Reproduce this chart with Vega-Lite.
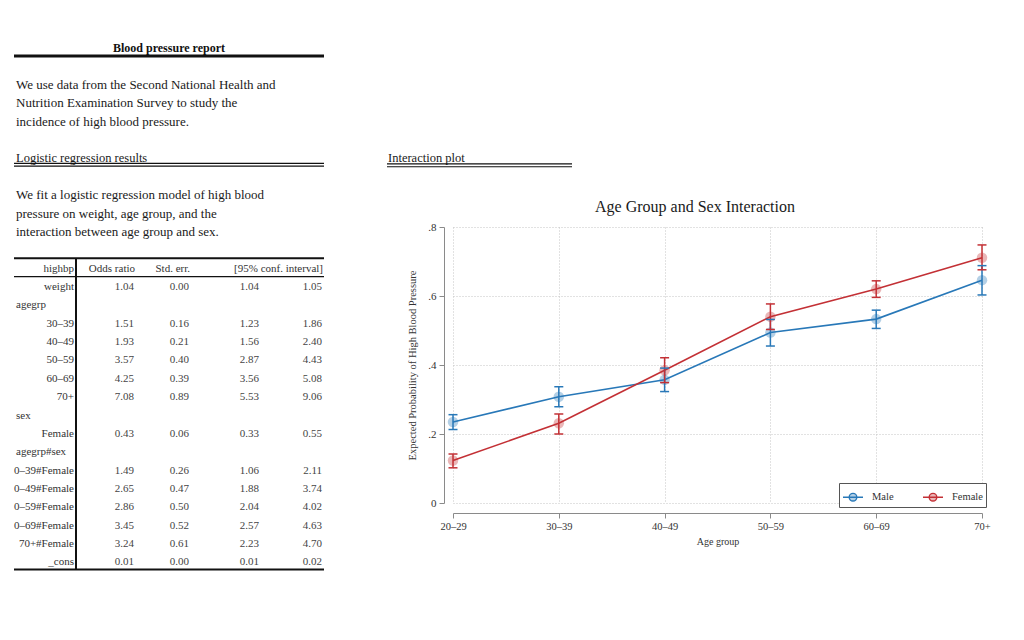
{
  "$schema": "https://vega.github.io/schema/vega-lite/v6.json",
  "width": 529,
  "height": 276,
  "autosize": {"type": "none"},
  "padding": {"left": 453, "top": 227, "right": 42, "bottom": 137},
  "background": "white",
  "config": {"view": {"stroke": null}, "font": "Liberation Serif"},
  "datasets": {
    "probs": [
      {"age": "20–29", "sex": "Male", "p": 0.235, "lo": 0.213, "hi": 0.256},
      {"age": "30–39", "sex": "Male", "p": 0.308, "lo": 0.279, "hi": 0.337},
      {"age": "40–49", "sex": "Male", "p": 0.357, "lo": 0.323, "hi": 0.391},
      {"age": "50–59", "sex": "Male", "p": 0.494, "lo": 0.455, "hi": 0.532},
      {"age": "60–69", "sex": "Male", "p": 0.533, "lo": 0.506, "hi": 0.559},
      {"age": "70+", "sex": "Male", "p": 0.646, "lo": 0.603, "hi": 0.688},
      {"age": "20–29", "sex": "Female", "p": 0.123, "lo": 0.102, "hi": 0.142},
      {"age": "30–39", "sex": "Female", "p": 0.231, "lo": 0.2, "hi": 0.258},
      {"age": "40–49", "sex": "Female", "p": 0.385, "lo": 0.349, "hi": 0.421},
      {"age": "50–59", "sex": "Female", "p": 0.54, "lo": 0.503, "hi": 0.577},
      {"age": "60–69", "sex": "Female", "p": 0.62, "lo": 0.596, "hi": 0.644},
      {"age": "70+", "sex": "Female", "p": 0.711, "lo": 0.676, "hi": 0.748}
    ],
    "table": [
      {"row": 12, "label": "highbp", "kind": "head"},
      {"row": 13, "label": "weight", "kind": "var", "or": 1.04, "se": 0.0, "lo": 1.04, "hi": 1.05},
      {"row": 14, "label": "agegrp", "kind": "group"},
      {"row": 15, "label": "30–39", "kind": "var", "or": 1.51, "se": 0.16, "lo": 1.23, "hi": 1.86},
      {"row": 16, "label": "40–49", "kind": "var", "or": 1.93, "se": 0.21, "lo": 1.56, "hi": 2.4},
      {"row": 17, "label": "50–59", "kind": "var", "or": 3.57, "se": 0.4, "lo": 2.87, "hi": 4.43},
      {"row": 18, "label": "60–69", "kind": "var", "or": 4.25, "se": 0.39, "lo": 3.56, "hi": 5.08},
      {"row": 19, "label": "70+", "kind": "var", "or": 7.08, "se": 0.89, "lo": 5.53, "hi": 9.06},
      {"row": 20, "label": "sex", "kind": "group"},
      {"row": 21, "label": "Female", "kind": "var", "or": 0.43, "se": 0.06, "lo": 0.33, "hi": 0.55},
      {"row": 22, "label": "agegrp#sex", "kind": "group"},
      {"row": 23, "label": "0–39#Female", "kind": "var", "or": 1.49, "se": 0.26, "lo": 1.06, "hi": 2.11},
      {"row": 24, "label": "0–49#Female", "kind": "var", "or": 2.65, "se": 0.47, "lo": 1.88, "hi": 3.74},
      {"row": 25, "label": "0–59#Female", "kind": "var", "or": 2.86, "se": 0.5, "lo": 2.04, "hi": 4.02},
      {"row": 26, "label": "0–69#Female", "kind": "var", "or": 3.45, "se": 0.52, "lo": 2.57, "hi": 4.63},
      {"row": 27, "label": "70+#Female", "kind": "var", "or": 3.24, "se": 0.61, "lo": 2.23, "hi": 4.7},
      {"row": 28, "label": "_cons", "kind": "var", "or": 0.01, "se": 0.0, "lo": 0.01, "hi": 0.02}
    ],
    "thead": [
      {"c": 2, "t": "Odds ratio"},
      {"c": 4, "t": "Std. err."},
      {"c": 6, "t": "[95% conf. interval]"}
    ],
    "one": [{}]
  },
  "resolve": {"scale": {"x": "independent", "y": "independent"}},
  "layer": [
    {
      "data": {"name": "probs"},
      "encoding": {
        "x": {
          "field": "age", "type": "nominal",
          "scale": {"type": "point", "padding": 0, "domain": ["20–29", "30–39", "40–49", "50–59", "60–69", "70+"]},
          "axis": {
            "title": "Age group", "labelAngle": 0, "offset": 10, "tickSize": 5, "labelPadding": 3,
            "labelFontSize": 10.5, "labelColor": "#333", "titleFontSize": 10, "titleFontWeight": "normal",
            "titleColor": "#333", "titlePadding": 5, "domainColor": "#8a8a8a", "tickColor": "#8a8a8a",
            "grid": true, "gridDash": [1, 2], "gridColor": "#c4c4c4"
          }
        },
        "color": {
          "field": "sex", "type": "nominal",
          "scale": {"domain": ["Male", "Female"], "range": ["#2878b8", "#c33035"]},
          "legend": {
            "title": null, "orient": "bottom-right", "direction": "horizontal", "offset": -4,
            "strokeColor": "#555", "fillColor": "white", "padding": 3,
            "symbolType": "M-1,0L1,0M-0.38,0A0.38,0.38,0,1,0,0.38,0A0.38,0.38,0,1,0,-0.38,0",
            "symbolSize": 400, "symbolStrokeWidth": 1.4, "symbolOpacity": 1,
            "labelFontSize": 10.5, "labelFont": "Liberation Serif", "labelColor": "#333",
            "labelOffset": 8, "columnPadding": 26,
            "encode": {"symbols": {"update": {
              "fill": {"scale": "color", "field": "value"},
              "fillOpacity": {"value": 0.35},
              "stroke": {"scale": "color", "field": "value"},
              "strokeOpacity": {"value": 1}
            }}}
          }
        }
      },
      "layer": [
        {
          "mark": {"type": "point", "filled": true, "opacity": 0.35, "size": 110},
          "encoding": {
            "y": {
              "field": "p", "type": "quantitative",
              "scale": {"domain": [0, 0.8], "nice": false, "zero": false},
              "axis": {
                "title": "Expected Probability of High Blood Pressure",
                "values": [0, 0.2, 0.4, 0.6, 0.8],
                "labelExpr": "datum.value == 0 ? '0' : replace(format(datum.value, '.1f'), '0.', '.')",
                "offset": 9, "tickSize": 5, "labelPadding": 3, "titlePadding": 10,
                "labelFontSize": 11, "labelColor": "#333", "titleFontSize": 10.5,
                "titleFontWeight": "normal", "titleColor": "#333",
                "domainColor": "#8a8a8a", "tickColor": "#8a8a8a",
                "grid": true, "gridDash": [1, 2], "gridColor": "#c4c4c4"
              }
            }
          }
        },
        {
          "mark": {"type": "line", "strokeWidth": 1.6},
          "encoding": {"y": {"field": "p", "type": "quantitative", "scale": {"domain": [0, 0.8], "nice": false, "zero": false}}}
        },
        {
          "mark": {"type": "rule", "strokeWidth": 1.5},
          "encoding": {
            "y": {"field": "lo", "type": "quantitative", "scale": {"domain": [0, 0.8], "nice": false, "zero": false}},
            "y2": {"field": "hi"}
          }
        },
        {
          "mark": {"type": "tick", "size": 9, "thickness": 1.5, "opacity": 1},
          "encoding": {"y": {"field": "lo", "type": "quantitative", "scale": {"domain": [0, 0.8], "nice": false, "zero": false}}}
        },
        {
          "mark": {"type": "tick", "size": 9, "thickness": 1.5, "opacity": 1},
          "encoding": {"y": {"field": "hi", "type": "quantitative", "scale": {"domain": [0, 0.8], "nice": false, "zero": false}}}
        }
      ]
    },
    {
      "layer": [
        {
          "data": {"values": [{"t": "Blood pressure report"}]},
          "mark": {"type": "text", "align": "center", "baseline": "middle", "fontSize": 12, "fontWeight": "bold", "color": "#111"},
          "encoding": {
            "x": {"datum": 3, "type": "quantitative", "scale": {"domain": [0,1,2,3,4,5,6,7,8,9,10], "range": [-439,-377,-319,-284,-264,-194,-131,-129,-66,119,242], "nice": false, "zero": false}, "axis": null},
            "y": {"datum": 0, "type": "quantitative", "scale": {"domain": [0, 28], "range": [-178.7, 335.4], "nice": false, "zero": false}, "axis": null},
            "text": {"field": "t"}
          }
        },
        {
          "data": {"name": "one"},
          "mark": {"type": "rule", "strokeWidth": 3, "color": "#111"},
          "encoding": {
            "x": {"datum": 0, "type": "quantitative", "scale": {"domain": [0,1,2,3,4,5,6,7,8,9,10], "range": [-439,-377,-319,-284,-264,-194,-131,-129,-66,119,242], "nice": false, "zero": false}, "axis": null},
            "x2": {"datum": 7},
            "y": {"datum": 0.42, "type": "quantitative", "scale": {"domain": [0, 28], "range": [-178.7, 335.4], "nice": false, "zero": false}, "axis": null}
          }
        },
        {
          "data": {"values": [{"t": ["We use data from the Second National Health and", "Nutrition Examination Survey to study the", "incidence of high blood pressure."]}]},
          "mark": {"type": "text", "align": "left", "baseline": "middle", "fontSize": 13, "lineHeight": 18.36, "dx": 2, "color": "#1a1a1a"},
          "encoding": {
            "x": {"datum": 0, "type": "quantitative", "scale": {"domain": [0,1,2,3,4,5,6,7,8,9,10], "range": [-439,-377,-319,-284,-264,-194,-131,-129,-66,119,242], "nice": false, "zero": false}, "axis": null},
            "y": {"datum": 2, "type": "quantitative", "scale": {"domain": [0, 28], "range": [-178.7, 335.4], "nice": false, "zero": false}, "axis": null},
            "text": {"field": "t"}
          }
        },
        {
          "data": {"values": [{"t": "Logistic regression results"}]},
          "mark": {"type": "text", "align": "left", "baseline": "middle", "fontSize": 12.5, "dx": 2, "color": "#1a1a1a"},
          "encoding": {
            "x": {"datum": 0, "type": "quantitative", "scale": {"domain": [0,1,2,3,4,5,6,7,8,9,10], "range": [-439,-377,-319,-284,-264,-194,-131,-129,-66,119,242], "nice": false, "zero": false}, "axis": null},
            "y": {"datum": 6, "type": "quantitative", "scale": {"domain": [0, 28], "range": [-178.7, 335.4], "nice": false, "zero": false}, "axis": null},
            "text": {"field": "t"}
          }
        },
        {
          "data": {"values": [{"t": "Interaction plot"}]},
          "mark": {"type": "text", "align": "left", "baseline": "middle", "fontSize": 12.5, "dx": 1, "color": "#1a1a1a"},
          "encoding": {
            "x": {"datum": 8, "type": "quantitative", "scale": {"domain": [0,1,2,3,4,5,6,7,8,9,10], "range": [-439,-377,-319,-284,-264,-194,-131,-129,-66,119,242], "nice": false, "zero": false}, "axis": null},
            "y": {"datum": 6, "type": "quantitative", "scale": {"domain": [0, 28], "range": [-178.7, 335.4], "nice": false, "zero": false}, "axis": null},
            "text": {"field": "t"}
          }
        },
        {
          "data": {"name": "one"},
          "mark": {"type": "rule", "strokeWidth": 1.2, "color": "#111"},
          "encoding": {
            "x": {"datum": 0, "type": "quantitative", "scale": {"domain": [0,1,2,3,4,5,6,7,8,9,10], "range": [-439,-377,-319,-284,-264,-194,-131,-129,-66,119,242], "nice": false, "zero": false}, "axis": null},
            "x2": {"datum": 7},
            "y": {"datum": 6.27, "type": "quantitative", "scale": {"domain": [0, 28], "range": [-178.7, 335.4], "nice": false, "zero": false}, "axis": null}
          }
        },
        {
          "data": {"name": "one"},
          "mark": {"type": "rule", "strokeWidth": 1.2, "color": "#111"},
          "encoding": {
            "x": {"datum": 0, "type": "quantitative", "scale": {"domain": [0,1,2,3,4,5,6,7,8,9,10], "range": [-439,-377,-319,-284,-264,-194,-131,-129,-66,119,242], "nice": false, "zero": false}, "axis": null},
            "x2": {"datum": 7},
            "y": {"datum": 6.42, "type": "quantitative", "scale": {"domain": [0, 28], "range": [-178.7, 335.4], "nice": false, "zero": false}, "axis": null}
          }
        },
        {
          "data": {"name": "one"},
          "mark": {"type": "rule", "strokeWidth": 1.2, "color": "#111"},
          "encoding": {
            "x": {"datum": 8, "type": "quantitative", "scale": {"domain": [0,1,2,3,4,5,6,7,8,9,10], "range": [-439,-377,-319,-284,-264,-194,-131,-129,-66,119,242], "nice": false, "zero": false}, "axis": null},
            "x2": {"datum": 9},
            "y": {"datum": 6.3, "type": "quantitative", "scale": {"domain": [0, 28], "range": [-178.7, 335.4], "nice": false, "zero": false}, "axis": null}
          }
        },
        {
          "data": {"name": "one"},
          "mark": {"type": "rule", "strokeWidth": 1.2, "color": "#111"},
          "encoding": {
            "x": {"datum": 8, "type": "quantitative", "scale": {"domain": [0,1,2,3,4,5,6,7,8,9,10], "range": [-439,-377,-319,-284,-264,-194,-131,-129,-66,119,242], "nice": false, "zero": false}, "axis": null},
            "x2": {"datum": 9},
            "y": {"datum": 6.45, "type": "quantitative", "scale": {"domain": [0, 28], "range": [-178.7, 335.4], "nice": false, "zero": false}, "axis": null}
          }
        },
        {
          "data": {"values": [{"t": ["We fit a logistic regression model of high blood", "pressure on weight, age group, and the", "interaction between age group and sex."]}]},
          "mark": {"type": "text", "align": "left", "baseline": "middle", "fontSize": 13, "lineHeight": 18.36, "dx": 2, "color": "#1a1a1a"},
          "encoding": {
            "x": {"datum": 0, "type": "quantitative", "scale": {"domain": [0,1,2,3,4,5,6,7,8,9,10], "range": [-439,-377,-319,-284,-264,-194,-131,-129,-66,119,242], "nice": false, "zero": false}, "axis": null},
            "y": {"datum": 8, "type": "quantitative", "scale": {"domain": [0, 28], "range": [-178.7, 335.4], "nice": false, "zero": false}, "axis": null},
            "text": {"field": "t"}
          }
        },
        {
          "data": {"values": [{"t": "Age Group and Sex Interaction"}]},
          "mark": {"type": "text", "align": "center", "baseline": "middle", "fontSize": 16, "color": "#1a1a1a"},
          "encoding": {
            "x": {"datum": 10, "type": "quantitative", "scale": {"domain": [0,1,2,3,4,5,6,7,8,9,10], "range": [-439,-377,-319,-284,-264,-194,-131,-129,-66,119,242], "nice": false, "zero": false}, "axis": null},
            "y": {"datum": 8.63, "type": "quantitative", "scale": {"domain": [0, 28], "range": [-178.7, 335.4], "nice": false, "zero": false}, "axis": null},
            "text": {"field": "t"}
          }
        },
        {
          "data": {"name": "one"},
          "mark": {"type": "rule", "strokeWidth": 2, "color": "#111"},
          "encoding": {
            "x": {"datum": 0, "type": "quantitative", "scale": {"domain": [0,1,2,3,4,5,6,7,8,9,10], "range": [-439,-377,-319,-284,-264,-194,-131,-129,-66,119,242], "nice": false, "zero": false}, "axis": null},
            "x2": {"datum": 7},
            "y": {"datum": 11.44, "type": "quantitative", "scale": {"domain": [0, 28], "range": [-178.7, 335.4], "nice": false, "zero": false}, "axis": null}
          }
        },
        {
          "data": {"name": "one"},
          "mark": {"type": "rule", "strokeWidth": 1.3, "color": "#111"},
          "encoding": {
            "x": {"datum": 0, "type": "quantitative", "scale": {"domain": [0,1,2,3,4,5,6,7,8,9,10], "range": [-439,-377,-319,-284,-264,-194,-131,-129,-66,119,242], "nice": false, "zero": false}, "axis": null},
            "x2": {"datum": 7},
            "y": {"datum": 12.44, "type": "quantitative", "scale": {"domain": [0, 28], "range": [-178.7, 335.4], "nice": false, "zero": false}, "axis": null}
          }
        },
        {
          "data": {"name": "one"},
          "mark": {"type": "rule", "strokeWidth": 2, "color": "#111"},
          "encoding": {
            "x": {"datum": 0, "type": "quantitative", "scale": {"domain": [0,1,2,3,4,5,6,7,8,9,10], "range": [-439,-377,-319,-284,-264,-194,-131,-129,-66,119,242], "nice": false, "zero": false}, "axis": null},
            "x2": {"datum": 7},
            "y": {"datum": 28.39, "type": "quantitative", "scale": {"domain": [0, 28], "range": [-178.7, 335.4], "nice": false, "zero": false}, "axis": null}
          }
        },
        {
          "data": {"name": "one"},
          "mark": {"type": "rule", "strokeWidth": 2, "color": "#111"},
          "encoding": {
            "x": {"datum": 1, "type": "quantitative", "scale": {"domain": [0,1,2,3,4,5,6,7,8,9,10], "range": [-439,-377,-319,-284,-264,-194,-131,-129,-66,119,242], "nice": false, "zero": false}, "axis": null},
            "y": {"datum": 11.44, "type": "quantitative", "scale": {"domain": [0, 28], "range": [-178.7, 335.4], "nice": false, "zero": false}, "axis": null},
            "y2": {"datum": 28.39}
          }
        },
        {
          "data": {"name": "table"},
          "transform": [{"filter": "datum.kind != 'group'"}],
          "mark": {"type": "text", "align": "right", "baseline": "middle", "fontSize": 11, "dx": -2, "color": "#333"},
          "encoding": {
            "x": {"datum": 1, "type": "quantitative", "scale": {"domain": [0,1,2,3,4,5,6,7,8,9,10], "range": [-439,-377,-319,-284,-264,-194,-131,-129,-66,119,242], "nice": false, "zero": false}, "axis": null},
            "y": {"field": "row", "type": "quantitative", "scale": {"domain": [0, 28], "range": [-178.7, 335.4], "nice": false, "zero": false}, "axis": null},
            "text": {"field": "label", "type": "nominal"}
          }
        },
        {
          "data": {"name": "table"},
          "transform": [{"filter": "datum.kind == 'group'"}],
          "mark": {"type": "text", "align": "left", "baseline": "middle", "fontSize": 11, "dx": 2, "color": "#333"},
          "encoding": {
            "x": {"datum": 0, "type": "quantitative", "scale": {"domain": [0,1,2,3,4,5,6,7,8,9,10], "range": [-439,-377,-319,-284,-264,-194,-131,-129,-66,119,242], "nice": false, "zero": false}, "axis": null},
            "y": {"field": "row", "type": "quantitative", "scale": {"domain": [0, 28], "range": [-178.7, 335.4], "nice": false, "zero": false}, "axis": null},
            "text": {"field": "label", "type": "nominal"}
          }
        },
        {
          "data": {"name": "thead"},
          "mark": {"type": "text", "align": "right", "baseline": "middle", "fontSize": 11, "dx": 1, "color": "#333"},
          "encoding": {
            "x": {"field": "c", "type": "quantitative", "scale": {"domain": [0,1,2,3,4,5,6,7,8,9,10], "range": [-439,-377,-319,-284,-264,-194,-131,-129,-66,119,242], "nice": false, "zero": false}, "axis": null},
            "y": {"datum": 12, "type": "quantitative", "scale": {"domain": [0, 28], "range": [-178.7, 335.4], "nice": false, "zero": false}, "axis": null},
            "text": {"field": "t", "type": "nominal"}
          }
        },
        {
          "data": {"name": "table"},
          "transform": [{"filter": "datum.kind == 'var'"}],
          "mark": {"type": "text", "align": "right", "baseline": "middle", "fontSize": 11, "color": "#444"},
          "encoding": {
            "x": {"datum": 2, "type": "quantitative", "scale": {"domain": [0,1,2,3,4,5,6,7,8,9,10], "range": [-439,-377,-319,-284,-264,-194,-131,-129,-66,119,242], "nice": false, "zero": false}, "axis": null},
            "y": {"field": "row", "type": "quantitative", "scale": {"domain": [0, 28], "range": [-178.7, 335.4], "nice": false, "zero": false}, "axis": null},
            "text": {"field": "or", "type": "quantitative", "format": ".2f"}
          }
        },
        {
          "data": {"name": "table"},
          "transform": [{"filter": "datum.kind == 'var'"}],
          "mark": {"type": "text", "align": "right", "baseline": "middle", "fontSize": 11, "color": "#444"},
          "encoding": {
            "x": {"datum": 4, "type": "quantitative", "scale": {"domain": [0,1,2,3,4,5,6,7,8,9,10], "range": [-439,-377,-319,-284,-264,-194,-131,-129,-66,119,242], "nice": false, "zero": false}, "axis": null},
            "y": {"field": "row", "type": "quantitative", "scale": {"domain": [0, 28], "range": [-178.7, 335.4], "nice": false, "zero": false}, "axis": null},
            "text": {"field": "se", "type": "quantitative", "format": ".2f"}
          }
        },
        {
          "data": {"name": "table"},
          "transform": [{"filter": "datum.kind == 'var'"}],
          "mark": {"type": "text", "align": "right", "baseline": "middle", "fontSize": 11, "color": "#444"},
          "encoding": {
            "x": {"datum": 5, "type": "quantitative", "scale": {"domain": [0,1,2,3,4,5,6,7,8,9,10], "range": [-439,-377,-319,-284,-264,-194,-131,-129,-66,119,242], "nice": false, "zero": false}, "axis": null},
            "y": {"field": "row", "type": "quantitative", "scale": {"domain": [0, 28], "range": [-178.7, 335.4], "nice": false, "zero": false}, "axis": null},
            "text": {"field": "lo", "type": "quantitative", "format": ".2f"}
          }
        },
        {
          "data": {"name": "table"},
          "transform": [{"filter": "datum.kind == 'var'"}],
          "mark": {"type": "text", "align": "right", "baseline": "middle", "fontSize": 11, "color": "#444"},
          "encoding": {
            "x": {"datum": 6, "type": "quantitative", "scale": {"domain": [0,1,2,3,4,5,6,7,8,9,10], "range": [-439,-377,-319,-284,-264,-194,-131,-129,-66,119,242], "nice": false, "zero": false}, "axis": null},
            "y": {"field": "row", "type": "quantitative", "scale": {"domain": [0, 28], "range": [-178.7, 335.4], "nice": false, "zero": false}, "axis": null},
            "text": {"field": "hi", "type": "quantitative", "format": ".2f"}
          }
        }
      ]
    }
  ]
}
